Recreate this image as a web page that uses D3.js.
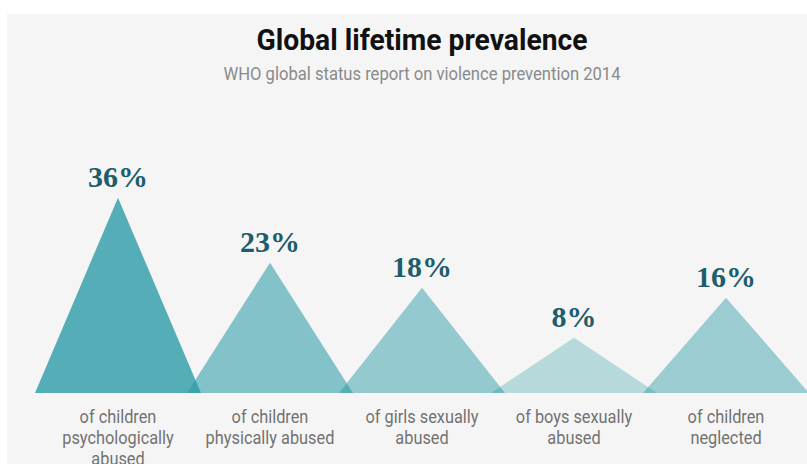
<!DOCTYPE html>
<html>
<head>
<meta charset="utf-8">
<script src="https://cdn.jsdelivr.net/npm/d3@7"></script>
<style>
  body { margin: 0; background: #ffffff; }
</style>
</head>
<body>
<div id="chart"></div>
<script>
// categories (label lines) and their values in percent
const categories = ["psych", "phys", "girls", "boys", "neglect"];
const labelLines = [
    ["of children", "psychologically", "abused"],
    ["of children", "physically abused"],
    ["of girls sexually", "abused"],
    ["of boys sexually", "abused"],
    ["of children", "neglected"]
];
const values = [36, 23, 18, 8, 16];

const W = 807, H = 464;
const baseY = 393;

const svg = d3.select("#chart")
    .append("svg")
    .attr("width", W)
    .attr("height", H);

// grey panel
svg.append("rect")
    .attr("x", 7)
    .attr("y", 14)
    .attr("width", W - 7)
    .attr("height", H - 14)
    .attr("fill", "#f5f5f5");

// title + subtitle
svg.append("text")
    .attr("x", 422)
    .attr("y", 50)
    .attr("text-anchor", "middle")
    .attr("textLength", 331)
    .attr("lengthAdjust", "spacingAndGlyphs")
    .style("font-family", "Roboto, 'Liberation Sans', sans-serif")
    .style("font-weight", "bold")
    .style("font-size", "29px")
    .style("fill", "#111")
    .text("Global lifetime prevalence");

svg.append("text")
    .attr("x", 422)
    .attr("y", 80)
    .attr("text-anchor", "middle")
    .attr("textLength", 397)
    .attr("lengthAdjust", "spacingAndGlyphs")
    .style("font-family", "Roboto, 'Liberation Sans', sans-serif")
    .style("font-size", "18px")
    .style("fill", "#8a8a8a")
    .text("WHO global status report on violence prevention 2014");

// scales
const x = d3.scaleBand()
    .domain(categories)
    .range([42, 802])
    .padding(0);

const y = d3.scaleLinear()
    .domain([0, 36])
    .range([baseY - 15.3, 197.7]);

const opacity = d3.scaleLinear()
    .domain([0, 36])
    .range([0.173, 0.79]);

const halfW = x.bandwidth() * 0.546;

const data = categories.map((c, i) => ({ key: c, value: values[i], lines: labelLines[i] }));

// triangles
svg.append("g")
    .selectAll("path")
    .data(data)
    .enter()
    .append("path")
    .attr("d", function (d) {
        const cx = x(d.key) + x.bandwidth() / 2;
        return `M${cx - halfW},${baseY} L${cx},${y(d.value)} L${cx + halfW},${baseY} Z`;
    })
    .attr("fill", "#2a9aa6")
    .attr("fill-opacity", d => opacity(d.value));

// value labels
svg.append("g")
    .selectAll("text")
    .data(data)
    .enter()
    .append("text")
    .attr("x", d => x(d.key) + x.bandwidth() / 2)
    .attr("y", d => y(d.value) - 11)
    .attr("text-anchor", "middle")
    .style("font-family", "'Liberation Serif', 'DejaVu Serif', serif")
    .style("font-weight", "bold")
    .style("font-size", "30px")
    .style("fill", "#1d5d6c")
    .text(d => d.value + "%");

// category labels
const lab = svg.append("g")
    .selectAll("g")
    .data(data)
    .enter()
    .append("g")
    .attr("transform", d => `translate(${x(d.key) + x.bandwidth() / 2}, 423) scale(0.86, 1)`);

lab.selectAll("text")
    .data(d => d.lines)
    .enter()
    .append("text")
    .attr("x", 0)
    .attr("y", (d, i) => i * 21)
    .attr("text-anchor", "middle")
    .style("font-family", "Roboto, 'Liberation Sans', sans-serif")
    .style("font-size", "19px")
    .style("fill", "#727272")
    .text(d => d);
</script>
</body>
</html>
